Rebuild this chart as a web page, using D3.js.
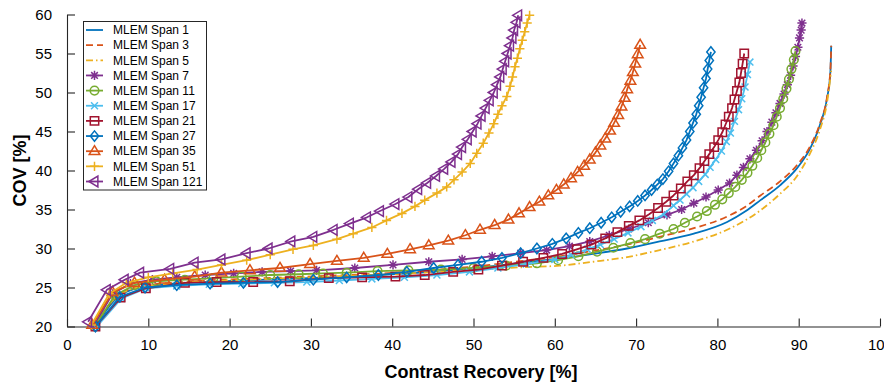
<!DOCTYPE html>
<html>
<head>
<meta charset="utf-8">
<script src="https://cdn.jsdelivr.net/npm/d3@7"></script>
<style>
  html, body { margin: 0; padding: 0; background: #fff; }
  svg { display: block; }
</style>
</head>
<body>
<svg id="chart" width="884" height="384"></svg>
<script>
// ---------------- DATA ----------------
const seriesNames = ["MLEM Span 1","MLEM Span 3","MLEM Span 5","MLEM Span 7","MLEM Span 11","MLEM Span 17","MLEM Span 21","MLEM Span 27","MLEM Span 35","MLEM Span 51","MLEM Span 121"];
const xTicks = [0,10,20,30,40,50,60,70,80,90,100];
const yTicks = [20,25,30,35,40,45,50,55,60];

const span1X = [3.5,6.5,9.5,13,17,22,27,32,37,42,47,52,56,60.6,64.7,68.9,72.9,77.1,81.2,83.5,85.3,87.7,89.8,91.4,92.6,93.5,93.9,94.0];
const span1Y = [20.0,24.0,25.1,25.5,25.7,25.9,26.1,26.3,26.5,26.8,27.2,27.7,28.2,28.7,29.3,30.0,30.9,31.9,33.4,34.8,36.2,38.1,40.3,42.8,45.8,49.3,52.7,56.0];

const span3X = [3.4,6.3,9.3,13,17,22,27,32,37,42,47,52,56,60.6,64.7,68.9,72.9,77.1,81.2,83.5,85.3,87.7,89.8,91.4,92.6,93.5,93.9,94.0];
const span3Y = [20.0,24.0,25.2,25.6,25.9,26.1,26.3,26.5,26.7,27.0,27.4,27.9,28.4,29.0,29.7,30.5,31.5,32.6,34.1,35.4,36.8,38.6,40.7,43.1,46.0,49.5,52.9,56.0];

const span5X = [3.3,6.2,9.2,13,17,22,27,32,37,42,47,52,56,60.6,64.7,68.9,72.9,77.1,81.2,85.3,87.7,89.8,91.4,92.6,93.5,94.0];
const span5Y = [19.9,23.9,25.1,25.5,25.8,26.0,26.2,26.4,26.6,26.8,27.1,27.4,27.6,27.8,28.3,28.9,29.8,30.9,32.4,34.9,37.0,39.3,42.2,45.2,48.8,52.8];

const span7X = [3.3,5.6,7.8,10.5,13.5,17.0,20.5,24.0,27.5,30.7,35.4,40.1,44.5,48.6,52.3,55.8,59.0,61.8,64.3,66.7,69.1,71.5,73.8,75.6,77.1,78.6,80.1,81.5,82.4,83.2,84.0,84.8,85.5,86.1,86.7,87.2,87.7,88.2,88.6,89.0,89.3,89.6,89.9,90.1,90.3,90.4];
const span7Y = [20.1,24.2,25.5,26.0,26.3,26.6,26.8,27.0,27.1,27.2,27.5,27.9,28.3,28.6,29.0,29.4,29.8,30.3,30.9,31.7,32.5,33.3,34.3,35.0,35.8,36.6,37.5,38.4,39.4,40.4,41.5,42.6,43.8,45.0,46.2,47.4,48.6,49.8,51.0,52.2,53.4,54.6,55.8,57.0,58.0,58.9];

const span11X = [3.4,5.9,8.3,11.0,14.5,18.0,21.5,25.0,28.5,31.5,34.4,38.2,42.0,46.0,50.0,54.0,57.8,60.4,62.9,65.2,67.2,69.3,71.1,72.9,74.6,76.0,77.5,78.7,79.7,80.6,81.4,82.2,83.0,83.7,84.3,84.9,85.4,85.9,86.4,86.9,87.3,87.7,88.1,88.5,88.8,89.1,89.4,89.6];
const span11Y = [20.0,24.0,25.3,25.8,26.0,26.2,26.4,26.6,26.7,26.8,26.9,27.1,27.2,27.3,27.5,27.8,28.1,28.5,29.0,29.6,30.1,30.7,31.2,31.9,32.5,33.3,34.1,34.8,35.6,36.3,37.1,37.9,38.8,39.7,40.6,41.6,42.6,43.6,44.7,45.8,46.9,48.0,49.2,50.5,51.7,53.0,54.2,55.3];

const span17X = [3.6,6.7,9.8,13.5,17.5,21.5,25.5,29.5,33.5,37.5,41.5,45.5,49.5,53.0,56.5,60.0,62.0,64.0,65.6,67.3,69.0,70.6,72.0,73.4,74.6,75.4,76.2,77.0,77.7,78.5,79.1,79.8,80.5,81.1,81.6,82.1,82.6,83.0,83.4,83.7,84.0];
const span17Y = [19.9,23.6,24.9,25.2,25.4,25.5,25.6,25.7,25.9,26.1,26.3,26.6,27.0,27.5,28.0,28.6,29.2,29.9,30.5,31.2,32.0,32.8,33.6,34.4,35.5,36.2,37.0,37.8,38.6,39.5,40.4,41.4,42.5,43.7,44.8,46.3,47.8,49.2,50.7,52.3,53.9];

const span21X = [3.5,6.6,9.7,14.5,18.4,22.9,27.4,32.2,36.3,40.4,44.0,47.5,50.6,53.5,56.1,58.6,60.9,62.7,64.5,66.2,67.7,69.1,70.4,71.6,72.7,73.7,74.6,75.5,76.3,77.1,77.8,78.4,79.0,79.6,80.1,80.6,81.0,81.4,81.8,82.1,82.4,82.7,82.9,83.1,83.3];
const span21Y = [20.0,23.7,24.9,25.6,25.7,25.7,25.8,26.2,26.3,26.4,26.6,27.0,27.3,27.8,28.3,28.8,29.3,29.9,30.5,31.3,32.1,32.9,33.6,34.4,35.2,36.0,36.8,37.7,38.6,39.4,40.3,41.2,42.1,43.0,43.9,44.9,45.9,46.9,48.0,49.1,50.2,51.3,52.5,53.7,55.0];

const span27X = [3.5,6.5,9.6,13.5,17.6,21.7,25.9,30.3,34.4,38.3,41.8,45.1,48.1,51.0,53.5,55.8,57.8,59.7,61.4,62.9,64.3,65.7,67.0,68.1,69.2,70.2,71.1,71.9,72.6,73.3,74.0,74.6,75.2,75.7,76.2,76.6,77.0,77.4,77.7,78.0,78.3,78.6,78.8,79.0,79.2];
const span27Y = [20.0,23.8,25.0,25.3,25.5,25.6,25.7,26.0,26.3,26.6,27.0,27.5,27.9,28.3,28.8,29.4,30.0,30.6,31.3,32.0,32.6,33.3,34.0,34.7,35.4,36.1,36.8,37.5,38.2,38.9,39.9,40.9,41.9,42.9,43.9,45.0,46.1,47.2,48.3,49.4,50.6,51.8,53.0,54.1,55.2];

const span35X = [3.1,5.6,8.3,12.0,15.7,19.0,22.5,26.2,29.9,33.2,36.5,39.4,42.2,44.5,46.9,49.0,50.8,52.6,54.3,55.6,56.9,58.1,59.2,60.2,61.1,62.0,62.8,63.6,64.3,65.0,65.6,66.2,66.8,67.3,67.8,68.2,68.6,68.9,69.3,69.6,69.9,70.2,70.5];
const span35Y = [20.2,24.4,25.6,26.0,26.4,26.9,27.2,27.5,28.0,28.4,28.8,29.3,29.9,30.4,31.0,31.7,32.4,33.0,33.7,34.5,35.3,36.0,36.8,37.5,38.2,39.0,39.8,40.6,41.4,42.3,43.2,44.1,45.1,46.1,47.1,48.2,49.3,50.4,51.5,52.6,53.7,54.9,56.1];

const span51X = [3.0,5.2,7.3,10.0,13.0,16.0,19.0,22.1,25.0,27.8,30.3,33.2,35.2,37.5,39.3,41.2,42.8,44.0,45.5,46.7,47.6,48.6,49.6,50.4,51.2,51.9,52.5,53.0,53.5,54.1,54.5,54.8,55.1,55.4,55.7,56.0,56.3,56.6,56.9];
const span51Y = [20.2,24.2,25.6,26.3,26.8,27.3,27.9,28.5,29.2,29.9,30.4,31.2,31.9,32.7,33.6,34.5,35.4,36.2,37.1,37.9,38.8,39.8,40.9,42.2,43.5,44.8,46.0,47.2,48.3,49.5,50.8,52.0,53.3,54.4,55.6,56.7,57.8,58.9,59.9];

const span121X = [2.6,4.9,7.1,9.0,12.7,15.7,19.0,22.1,24.8,27.6,30.3,32.8,34.8,36.9,38.5,40.4,42.0,43.2,44.3,45.4,46.4,47.3,48.1,48.6,49.3,49.9,50.5,51.0,51.5,52.0,52.5,52.9,53.3,53.6,53.9,54.2,54.5,54.8,55.0,55.3,55.5];
const span121Y = [20.6,24.7,26.0,26.9,27.4,28.2,28.6,29.4,30.0,30.9,31.5,32.4,33.2,34.0,34.8,35.7,36.6,37.6,38.4,39.3,40.2,41.1,42.1,43.0,44.0,45.0,46.0,47.0,48.0,49.0,50.0,51.0,52.0,53.0,54.0,55.0,56.0,57.0,58.0,59.0,59.9];

const seriesX = [span1X, span3X, span5X, span7X, span11X, span17X, span21X, span27X, span35X, span51X, span121X];
const seriesY = [span1Y, span3Y, span5Y, span7Y, span11Y, span17Y, span21Y, span27Y, span35Y, span51Y, span121Y];

// ---------------- STYLES ----------------
const colors  = ["#0072BD","#D95319","#EDB120","#7E2F8E","#77AC30","#4DBEEE","#A2142F","#0072BD","#D95319","#EDB120","#7E2F8E"];
const markers = [null,null,null,"asterisk","circle","x","square","diamond","triUp","plus","triLeft"];
const dashes  = [null,"7,4","7,3,1.5,3",null,null,null,null,null,null,null,null];

// marker symbol types (custom d3.symbol types, size = radius)
const symbolTypes = {
  circle:  { draw(c, r) { c.moveTo(r, 0); c.arc(0, 0, r, 0, 2 * Math.PI); c.closePath(); } },
  square:  { draw(c, r) { c.moveTo(-r, -r); c.lineTo(r, -r); c.lineTo(r, r); c.lineTo(-r, r); c.closePath(); } },
  diamond: { draw(c, r) { c.moveTo(0, -r); c.lineTo(r * 0.8, 0); c.lineTo(0, r); c.lineTo(-r * 0.8, 0); c.closePath(); } },
  triUp:   { draw(c, r) { c.moveTo(0, -r); c.lineTo(r * 0.95, r * 0.6); c.lineTo(-r * 0.95, r * 0.6); c.closePath(); } },
  triLeft: { draw(c, r) { c.moveTo(-r, 0); c.lineTo(r * 0.6, -r * 0.95); c.lineTo(r * 0.6, r * 0.95); c.closePath(); } },
  plus:    { draw(c, r) { c.moveTo(-r, 0); c.lineTo(r, 0); c.moveTo(0, -r); c.lineTo(0, r); } },
  x:       { draw(c, r) { const a = r * 0.75; c.moveTo(-a, -a); c.lineTo(a, a); c.moveTo(-a, a); c.lineTo(a, -a); } },
  asterisk:{ draw(c, r) { const a = r * 0.72; c.moveTo(-r, 0); c.lineTo(r, 0); c.moveTo(0, -r); c.lineTo(0, r);
                          c.moveTo(-a, -a); c.lineTo(a, a); c.moveTo(-a, a); c.lineTo(a, -a); } }
};
const markerRadius = { circle: 4.3, square: 4.2, diamond: 5.2, triUp: 5.6, triLeft: 5.6, plus: 4.6, x: 4.6, asterisk: 4.6 };

// ---------------- LAYOUT ----------------
const font = "'Liberation Sans', Arial, Helvetica, sans-serif";
const axisColor = "#262626";
const svg = d3.select("#chart");
const x = d3.scaleLinear().domain([0, 100]).range([67, 880]);
const y = d3.scaleLinear().domain([20, 60]).range([326.5, 14.5]);

// axes (MATLAB style: inward ticks, left + bottom only)
const xAxis = d3.axisBottom(x).tickValues(xTicks).tickSizeInner(-8).tickSizeOuter(0).tickPadding(13);
const yAxis = d3.axisLeft(y).tickValues(yTicks).tickSizeInner(-8).tickSizeOuter(0).tickPadding(15);

const gx = svg.append("g").attr("transform", `translate(0,${y(20)})`).call(xAxis);
const gy = svg.append("g").attr("transform", `translate(${x(0)},0)`).call(yAxis);
[gx, gy].forEach(g => {
  g.select(".domain").attr("stroke", axisColor).attr("stroke-width", 1.1);
  g.selectAll(".tick line").attr("stroke", axisColor).attr("stroke-width", 1.1);
  g.selectAll(".tick text").attr("fill", "#000").style("font-family", font).style("font-size", "15px");
});

// axis titles
svg.append("text").attr("x", 481).attr("y", 378).attr("text-anchor", "middle")
  .style("font-family", font).style("font-size", "18px").style("font-weight", "bold")
  .text("Contrast Recovery [%]");
svg.append("text").attr("transform", `translate(26,${(y(20) + y(60)) / 2}) rotate(-90)`)
  .attr("text-anchor", "middle")
  .style("font-family", font).style("font-size", "18px").style("font-weight", "bold")
  .text("COV [%]");

// series
const plot = svg.append("g");
seriesNames.forEach((name, i) => {
  const pts = seriesX[i].map((vx, k) => [vx, seriesY[i][k]]);
  const line = d3.line().x(d => x(d[0])).y(d => y(d[1]))
    .curve(markers[i] ? d3.curveLinear : d3.curveMonotoneX);
  const g = plot.append("g");
  g.append("path").attr("d", line(pts)).attr("fill", "none")
    .attr("stroke", colors[i]).attr("stroke-width", 1.8)
    .attr("stroke-dasharray", dashes[i]).attr("stroke-linejoin", "round");
  if (markers[i]) {
    const sym = d3.symbol().type(symbolTypes[markers[i]]).size(markerRadius[markers[i]]);
    g.selectAll("path.m").data(pts).join("path").attr("class", "m")
      .attr("transform", d => `translate(${x(d[0])},${y(d[1])})`)
      .attr("d", sym).attr("fill", "none").attr("stroke", colors[i]).attr("stroke-width", 1.5);
  }
});

// legend
const leg = svg.append("g");
leg.append("rect").attr("x", 83.5).attr("y", 21.5).attr("width", 123).attr("height", 168.5)
  .attr("fill", "#fff").attr("stroke", axisColor).attr("stroke-width", 1);
const rowY = d3.scaleLinear().domain([0, seriesNames.length - 1]).range([30, 181.5]);
seriesNames.forEach((name, i) => {
  const ry = rowY(i);
  leg.append("line").attr("x1", 86).attr("x2", 103).attr("y1", ry).attr("y2", ry)
    .attr("stroke", colors[i]).attr("stroke-width", 1.8).attr("stroke-dasharray", dashes[i]);
  if (markers[i]) {
    leg.append("path").attr("transform", `translate(94.5,${ry})`)
      .attr("d", d3.symbol().type(symbolTypes[markers[i]]).size(markerRadius[markers[i]]))
      .attr("fill", "none").attr("stroke", colors[i]).attr("stroke-width", 1.5);
  }
  leg.append("text").attr("x", 113).attr("y", ry).attr("dy", "0.35em")
    .style("font-family", font).style("font-size", "12px").attr("fill", "#000").text(name);
});
</script>
</body>
</html>
